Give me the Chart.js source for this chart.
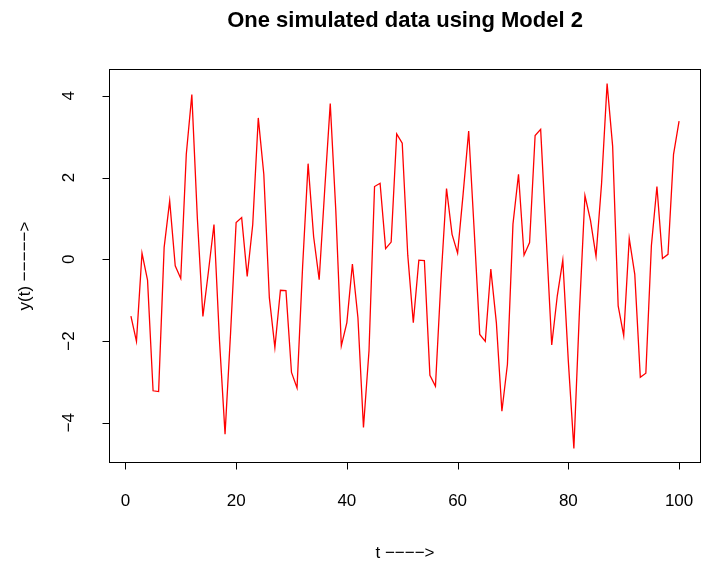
<!DOCTYPE html>
<html>
<head>
<meta charset="utf-8">
<script src="https://cdn.jsdelivr.net/npm/chart.js@4/dist/chart.umd.min.js"></script>
<style>
  html, body { margin: 0; padding: 0; background: #ffffff; }
  canvas { display: block; }
</style>
</head>
<body>
<canvas id="plot" width="702" height="567"></canvas>
<script>
// Simulated series y(t), t = 1..100
const ySeries = [
  -1.39, -2.01,  0.15, -0.51, -3.22, -3.24,  0.29,  1.43, -0.16, -0.47,
   2.57,  4.03,  1.00, -1.40, -0.30,  0.85, -2.00, -4.28, -1.80,  0.90,
   1.02, -0.42,  0.85,  3.46,  2.08, -0.94, -2.16, -0.76, -0.77, -2.77,
  -3.15, -0.20,  2.34,  0.55, -0.50,  1.70,  3.81,  1.20, -2.12, -1.55,
  -0.12, -1.43, -4.12, -2.24,  1.78,  1.86,  0.26,  0.42,  3.07,  2.84,
   0.10, -1.55, -0.02, -0.03, -2.84, -3.11, -0.50,  1.73,  0.61,  0.15,
   1.60,  3.14,  0.70, -1.84, -2.01, -0.24, -1.55, -3.72, -2.57,  0.86,
   2.08,  0.10,  0.41,  3.03,  3.18,  0.55, -2.10, -0.90, -0.02, -2.50,
  -4.63, -1.30,  1.56,  0.95,  0.07,  1.85,  4.30,  2.77, -1.14, -1.87,
   0.51, -0.37, -2.89, -2.79,  0.33,  1.78,  0.02,  0.12,  2.57,  3.38
];
const tIndex = ySeries.map((_, i) => i + 1);

const xTicks = [0, 20, 40, 60, 80, 100];
const yTicks = [-4, -2, 0, 2, 4];

const titleText = 'One simulated data using Model 2';
const xTitle = 't \u2212\u2212\u2212\u2212>';
const yTitle = 'y(t) \u2212\u2212\u2212\u2212\u2212>';

// axis limits padded by 4% on each side of the data range
function padRange(vals) {
  const lo = Math.min(...vals), hi = Math.max(...vals);
  const d = (hi - lo) * 0.04;
  return [lo - d, hi + d];
}
const [xMin, xMax] = padRange(tIndex);
const [yMin, yMax] = padRange(ySeries);

const FONT = '"Liberation Sans", Arial, Helvetica, sans-serif';
const fmt = v => (v < 0 ? '\u2212' + Math.abs(v) : String(v));

// frame, ticks, tick labels and titles
const framePlugin = {
  id: 'frame',
  beforeDraw(chart) {
    const ctx = chart.ctx;
    ctx.save();
    ctx.fillStyle = '#ffffff';
    ctx.fillRect(0, 0, chart.width, chart.height);
    ctx.restore();
  },
  afterDraw(chart) {
    const { ctx, chartArea: a, scales: { x, y } } = chart;
    const tickLen = 7;
    ctx.save();
    ctx.strokeStyle = '#000000';
    ctx.lineWidth = 1;

    // box
    ctx.strokeRect(Math.round(a.left) + 0.5, Math.round(a.top) + 0.5,
                   Math.round(a.right - a.left) - 1, Math.round(a.bottom - a.top) - 1);

    // x axis
    const xb = Math.round(a.bottom) - 0.5;
    ctx.beginPath();
    const x0 = x.getPixelForValue(xTicks[0]);
    const x1 = x.getPixelForValue(xTicks[xTicks.length - 1]);
    ctx.moveTo(x0, xb); ctx.lineTo(x1, xb);
    xTicks.forEach(v => {
      const px = Math.round(x.getPixelForValue(v)) + 0.5;
      ctx.moveTo(px, xb); ctx.lineTo(px, xb + tickLen);
    });
    ctx.stroke();

    ctx.fillStyle = '#000000';
    ctx.font = '17px ' + FONT;
    ctx.textAlign = 'center';
    ctx.textBaseline = 'middle';
    xTicks.forEach(v => ctx.fillText(fmt(v), x.getPixelForValue(v), 501));

    // y axis
    const yl = Math.round(a.left) + 0.5;
    ctx.beginPath();
    const y0 = y.getPixelForValue(yTicks[0]);
    const y1 = y.getPixelForValue(yTicks[yTicks.length - 1]);
    ctx.moveTo(yl, y0); ctx.lineTo(yl, y1);
    yTicks.forEach(v => {
      const py = Math.round(y.getPixelForValue(v)) + 0.5;
      ctx.moveTo(yl, py); ctx.lineTo(yl - tickLen, py);
    });
    ctx.stroke();

    yTicks.forEach(v => {
      ctx.save();
      ctx.translate(69, y.getPixelForValue(v));
      ctx.rotate(-Math.PI / 2);
      ctx.fillText(fmt(v), 0, 0);
      ctx.restore();
    });

    // axis titles
    ctx.fillText(xTitle, (a.left + a.right) / 2, 553);
    ctx.save();
    ctx.translate(25, (a.top + a.bottom) / 2);
    ctx.rotate(-Math.PI / 2);
    ctx.fillText(yTitle, 0, 0);
    ctx.restore();

    // main title
    ctx.font = 'bold 22px ' + FONT;
    ctx.fillText(titleText, (a.left + a.right) / 2, 21);
    ctx.restore();
  }
};

new Chart(document.getElementById('plot'), {
  type: 'line',
  data: {
    datasets: [{
      data: tIndex.map((t, i) => ({ x: t, y: ySeries[i] })),
      borderColor: '#ff0000',
      borderWidth: 1.3,
      pointRadius: 0,
      tension: 0,
      fill: false
    }]
  },
  options: {
    responsive: false,
    animation: false,
    devicePixelRatio: 1,
    layout: { padding: { left: 109, top: 69, right: 1, bottom: 104 } },
    plugins: { legend: { display: false }, tooltip: { enabled: false } },
    scales: {
      x: { type: 'linear', min: xMin, max: xMax, display: false },
      y: { type: 'linear', min: yMin, max: yMax, display: false }
    }
  },
  plugins: [framePlugin]
});
</script>
</body>
</html>
